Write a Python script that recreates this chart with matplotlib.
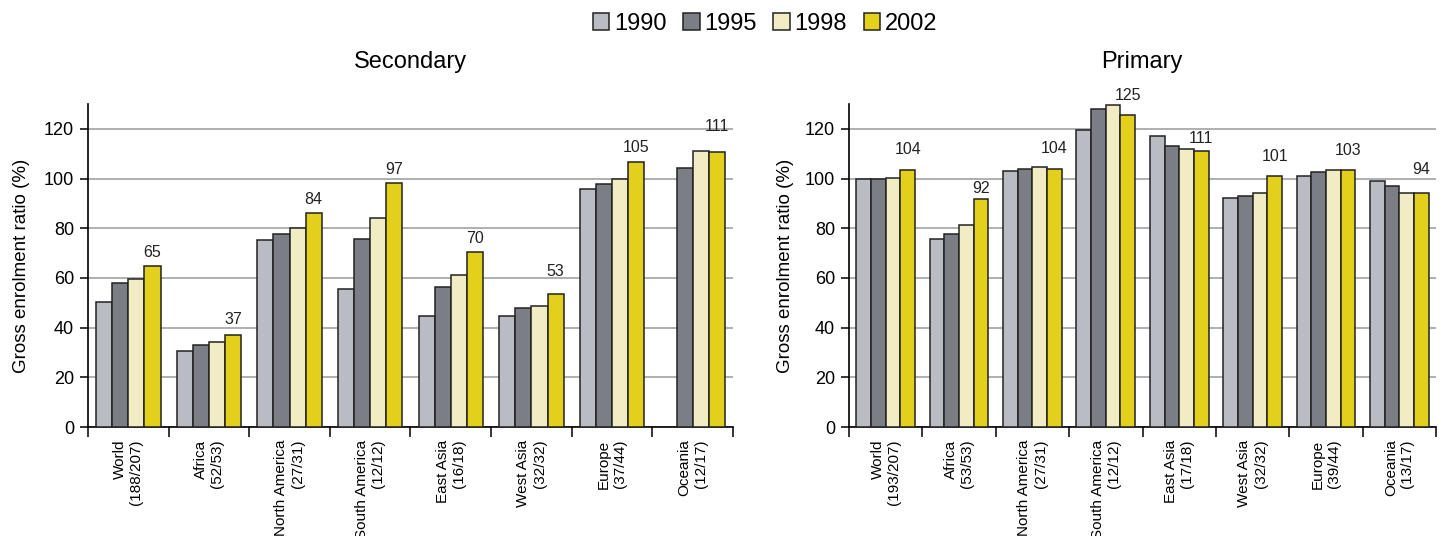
import numpy as np
import matplotlib
matplotlib.use("Agg")
import matplotlib.pyplot as plt
from matplotlib.patches import Patch

plt.rcParams['font.family'] = ['Liberation Sans', 'DejaVu Sans']

years = ["1990", "1995", "1998", "2002"]
colors = ["#b9bcc3", "#7b7e84", "#f1ecc3", "#e2d01c"]

sec_regions = ["World\n(188/207)", "Africa\n(52/53)", "North America\n(27/31)",
               "South America\n(12/12)", "East Asia\n(16/18)", "West Asia\n(32/32)",
               "Europe\n(37/44)", "Oceania\n(12/17)"]
sec_1990 = [50.4, 30.4, 75.1, 55.5, 44.8, 44.8, 95.7, np.nan]
sec_1995 = [57.9, 32.9, 77.7, 75.8, 56.5, 47.8, 98.0, 104.3]
sec_1998 = [59.5, 34.4, 80.2, 84.3, 61.0, 48.8, 100.0, 110.9]
sec_2002 = [64.9, 37.2, 86.2, 98.4, 70.4, 53.4, 106.5, 110.8]
sec_labels = ["65", "37", "84", "97", "70", "53", "105", "111"]

prim_regions = ["World\n(193/207)", "Africa\n(53/53)", "North America\n(27/31)",
                "South America\n(12/12)", "East Asia\n(17/18)", "West Asia\n(32/32)",
                "Europe\n(39/44)", "Oceania\n(13/17)"]
prim_1990 = [99.9, 75.5, 103.0, 119.6, 117.1, 92.2, 101.1, 99.1]
prim_1995 = [99.7, 77.6, 103.8, 128.0, 113.0, 93.0, 102.8, 97.0]
prim_1998 = [100.1, 81.5, 104.6, 129.7, 112.0, 94.0, 103.4, 94.1]
prim_2002 = [103.6, 91.8, 103.9, 125.4, 111.2, 100.9, 103.4, 94.0]
prim_labels = ["104", "92", "104", "125", "111", "101", "103", "94"]

# vertical offset of the value labels above the 2002 bar (data units)
sec_off = [5.3, 6, 5.2, 5.4, 5.3, 9, 6, 10]
prim_off = [8, 4.2, 8, 8.2, 5, 8, 8, 9.5]

fig = plt.figure(figsize=(14.47, 5.36), dpi=100)
ax1 = fig.add_axes([88/1447, 109/536, 645/1447, 323/536])
ax2 = fig.add_axes([849/1447, 109/536, 587/1447, 323/536])


def draw(ax, regions, series, labels, offs):
    x = np.arange(len(regions))
    w = 0.2
    for i, vals in enumerate(series):
        ax.bar(x + (i - 1.5) * w, vals, w, color=colors[i], edgecolor="#222222",
               linewidth=1.1, zorder=3)
    for xi, v, lab, o in zip(x, series[3], labels, offs):
        ax.text(xi + 1.5 * w, v + o, lab, ha="center", va="center", fontsize=11.5,
                color="#222222")
    ax.set_xlim(-0.5, len(regions) - 0.5)
    ax.set_ylim(0, 130)
    ax.set_yticks(range(0, 121, 20))
    ax.yaxis.grid(True, color="#a7a9ad", linewidth=1.3, zorder=0)
    ax.set_axisbelow(True)
    ax.set_xticks(np.arange(len(regions) + 1) - 0.5)
    ax.set_xticklabels([])
    ax.set_xticks(x, minor=True)
    ax.set_xticklabels(regions, minor=True, rotation=90, fontsize=11,
                       multialignment="right", va="top", ha="center")
    ax.tick_params(axis="x", which="major", length=7, width=1.1, direction="out")
    ax.tick_params(axis="x", which="minor", length=0, pad=9)
    ax.tick_params(axis="y", length=6, width=1.1, labelsize=13, pad=4)
    for s in ["top", "right"]:
        ax.spines[s].set_visible(False)
    ax.spines["left"].set_linewidth(1.2)
    ax.spines["bottom"].set_linewidth(1.2)
    ax.set_ylabel("Gross enrolment ratio (%)", fontsize=13.5)


draw(ax1, sec_regions, [sec_1990, sec_1995, sec_1998, sec_2002], sec_labels, sec_off)
draw(ax2, prim_regions, [prim_1990, prim_1995, prim_1998, prim_2002], prim_labels, prim_off)
ax1.yaxis.set_label_coords(-0.09, 0.5)
ax2.yaxis.set_label_coords(-0.094, 0.5)

fig.text(410/1447, 1 - 62/536, "Secondary", ha="center", va="center", fontsize=17)
fig.text(1142/1447, 1 - 62/536, "Primary", ha="center", va="center", fontsize=17)

handles = [Patch(facecolor=c, edgecolor="#222222", linewidth=1.1) for c in colors]
fig.legend(handles, years, loc="center", bbox_to_anchor=(765/1447, 1 - 24/536),
           ncol=4, frameon=False, fontsize=17, handlelength=0.7, handleheight=0.7,
           handletextpad=0.2, columnspacing=0.7, borderpad=0)

fig.savefig("out.png", dpi=100)
